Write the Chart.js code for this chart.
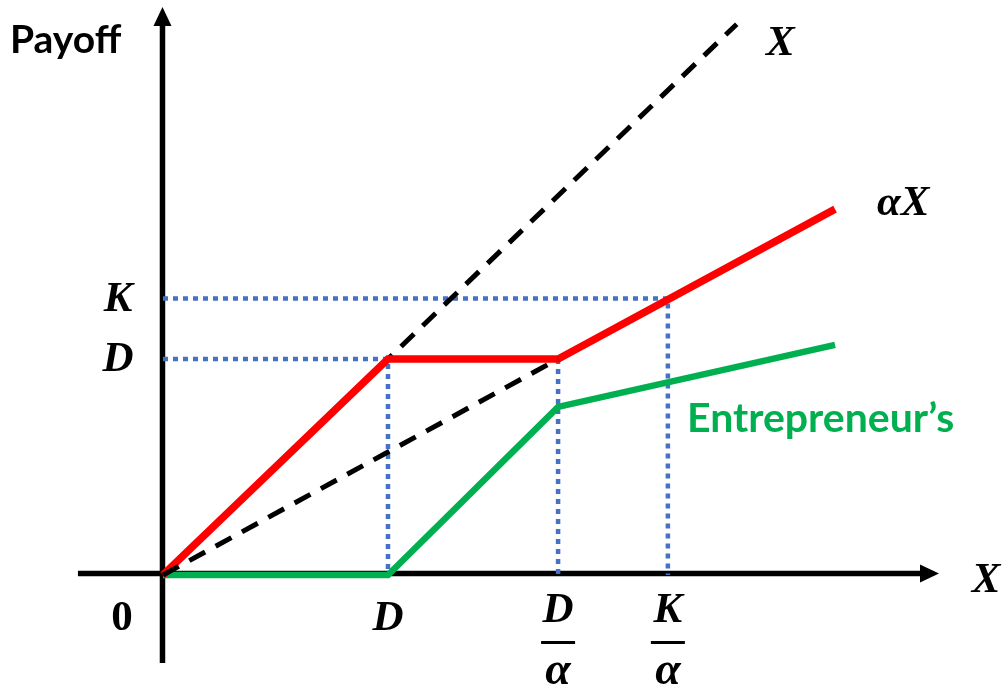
<!DOCTYPE html>
<html>
<head>
<meta charset="utf-8">
<script src="https://cdn.jsdelivr.net/npm/chart.js@4"></script>
<style>
html, body { margin: 0; padding: 0; background: #fff; }
#wrap { width: 1002px; height: 692px; position: relative; }
</style>
</head>
<body>
<div id="wrap"><canvas id="payoffChart"></canvas></div>
<script>
'use strict';

/* Payoff diagram, values in units of D (D = 1, alpha ~ 0.57) */
const kinkX = [0, 1, 1.756, 2.987];                 // X where the lines bend
const investorPayoff = [0, 1, 1.0, 1.694];          // red
const entrepreneurPayoff = [0, 0, 0.778, 1.065];    // green
const lineX45 = [0, 2.55];                          // dashed "X"
const lineY45 = [0, 2.55];
const alphaLineX = [0, 1.756];                      // dashed "alpha X"
const alphaLineY = [0, 1.0];

const xTickValues = [0, 1, 1.756, 2.244];
const xTickLabels = ['0', 'D', 'D|α', 'K|α'];       // "|" = fraction bar
const yTickValues = [1.28, 1];
const yTickLabels = ['K', 'D'];

// dotted guides: [yTick index, xTick index]
const guides = [[0, 3], [1, 1]];

const toPoints = (xs, ys) => xs.map((x, i) => ({ x: x, y: ys[i] }));

const blue = '#4472c4';
const dotted = { borderColor: blue, borderWidth: 4.5, borderDash: [5, 5], order: 3 };

const datasets = [];
guides.forEach(function(g) {
    const y = yTickValues[g[0]], x = xTickValues[g[1]];
    datasets.push(Object.assign({ data: [{ x: 0, y: y }, { x: x, y: y }, { x: x, y: 0 }] }, dotted));
});
// vertical guide at D/alpha
datasets.push(Object.assign({ data: [{ x: xTickValues[2], y: yTickValues[1] }, { x: xTickValues[2], y: 0 }] }, dotted));

datasets.push({ data: toPoints(lineX45, lineY45), borderColor: '#000', borderWidth: 5, borderDash: [18, 12], order: 2 });
datasets.push({ data: toPoints(alphaLineX, alphaLineY), borderColor: '#000', borderWidth: 5, borderDash: [18, 12], order: 0 });
datasets.push({ data: toPoints(kinkX, investorPayoff), borderColor: '#ff0000', borderWidth: 7.5, order: 1 });
datasets.push({ data: toPoints(kinkX, entrepreneurPayoff), borderColor: '#00b050', borderWidth: 6.5, order: 1 });

// axes with arrow heads, drawn under the lines
const axesPlugin = {
    id: 'arrowAxes',
    beforeDatasetsDraw: function(chart) {
        const c = chart.ctx, xs = chart.scales.x, ys = chart.scales.y;
        const ox = xs.getPixelForValue(0), oy = ys.getPixelForValue(0);
        c.save();
        c.strokeStyle = '#000';
        c.fillStyle = '#000';
        c.lineWidth = 5.5;
        // y axis
        const yTop = ys.getPixelForValue(2.63), yBot = ys.getPixelForValue(-0.407);
        c.beginPath();
        c.moveTo(ox - 0.5, yBot);
        c.lineTo(ox - 0.5, yTop + 16);
        c.stroke();
        c.beginPath();
        c.moveTo(ox - 0.5, yTop);
        c.lineTo(ox - 9.5, yTop + 19);
        c.lineTo(ox + 8.5, yTop + 19);
        c.closePath();
        c.fill();
        // x axis
        const xL = xs.getPixelForValue(-0.378), xR = xs.getPixelForValue(3.449);
        c.beginPath();
        c.moveTo(xL, oy - 1.5);
        c.lineTo(xR - 16, oy - 1.5);
        c.stroke();
        c.beginPath();
        c.moveTo(xR, oy - 1.5);
        c.lineTo(xR - 19, oy - 10.5);
        c.lineTo(xR - 19, oy + 7.5);
        c.closePath();
        c.fill();
        c.restore();
    },
    afterDatasetsDraw: function(chart) {
        const c = chart.ctx, xs = chart.scales.x, ys = chart.scales.y;
        const ox = xs.getPixelForValue(0), oy = ys.getPixelForValue(0);
        const mathFont = 'italic bold 43px "Liberation Serif"';
        c.save();
        c.fillStyle = '#000';
        c.textAlign = 'center';
        c.textBaseline = 'alphabetic';

        // x tick labels
        xTickValues.forEach(function(v, i) {
            const px = xs.getPixelForValue(v) + (i === 0 ? -41 : 0);
            const lab = xTickLabels[i];
            if (lab.indexOf('|') >= 0) {
                const parts = lab.split('|');
                c.font = mathFont;
                c.fillText(parts[0], px, oy + 47);
                c.font = 'italic bold 46px "Liberation Serif"';
                c.fillText(parts[1], px, oy + 109);
                c.fillRect(px - 17, oy + 66, 34, 3);
            } else {
                c.font = i === 0 ? 'bold 43px "Liberation Serif"' : mathFont;
                c.fillText(lab, px, oy + 55);
            }
        });
        // y tick labels
        c.font = mathFont;
        yTickValues.forEach(function(v, i) {
            c.fillText(yTickLabels[i], ox - 45, ys.getPixelForValue(v) + 12);
        });

        // line names
        c.textAlign = 'left';
        c.fillText('X', xs.getPixelForValue(2.68), ys.getPixelForValue(2.407));
        c.fillText('αX', xs.getPixelForValue(3.173), ys.getPixelForValue(1.667));
        c.fillText('X', xs.getPixelForValue(3.595), oy + 17);

        c.font = 'bold 41px Lato';
        c.fillStyle = '#00b050';
        c.fillText('Entrepreneur\u2019s', xs.getPixelForValue(2.329), ys.getPixelForValue(0.663));

        c.fillStyle = '#000';
        c.font = 'bold 39px Lato';
        c.fillText('Payoff', 10, 53);
        c.restore();
    }
};

new Chart(document.getElementById('payoffChart'), {
    type: 'line',
    data: { datasets: datasets },
    options: {
        responsive: true,
        maintainAspectRatio: false,
        animation: false,
        events: [],
        layout: { padding: 0 },
        elements: {
            point: { radius: 0 },
            line: { tension: 0, fill: false }
        },
        scales: {
            x: { type: 'linear', min: -0.7244, max: 3.729, display: false },
            y: { type: 'linear', min: -0.5417, max: 2.662, display: false }
        },
        plugins: {
            legend: { display: false },
            tooltip: { enabled: false }
        }
    },
    plugins: [axesPlugin]
});
</script>
</body>
</html>
